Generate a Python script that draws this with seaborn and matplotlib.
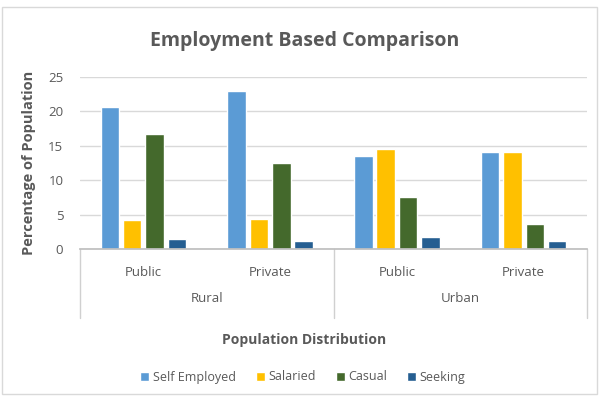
import matplotlib
matplotlib.use("Agg")
import matplotlib.pyplot as plt
import seaborn as sns
import pandas as pd
from matplotlib.patches import Rectangle
from matplotlib.transforms import blended_transform_factory

# Survey shares by area and sector
areas = ["Rural", "Rural", "Urban", "Urban"]
sectors = ["Public", "Private", "Public", "Private"]
series = ["Self Employed", "Salaried", "Casual", "Seeking"]
self_employed = [20.7, 23.0, 13.5, 14.1]
salaried = [4.2, 4.4, 14.6, 14.1]
casual = [16.7, 12.5, 7.6, 3.6]
seeking = [1.4, 1.2, 1.8, 1.2]
yticks = [0, 5, 10, 15, 20, 25]

colors = ["#5B9BD5", "#FFC000", "#44692C", "#255E91"]
text_grey = "#595959"

rows = []
for i, (a, s) in enumerate(zip(areas, sectors)):
    for name, vals in zip(series, [self_employed, salaried, casual, seeking]):
        rows.append({"slot": f"{a}-{s}", "Series": name, "Value": vals[i]})
df = pd.DataFrame(rows)
order = [f"{a}-{s}" for a, s in zip(areas, sectors)]

sns.set_theme(style="white")
plt.rcParams["font.family"] = ["Open Sans", "DejaVu Sans"]

fig = plt.figure(figsize=(6.0, 3.97), dpi=100)
ax = fig.add_axes([80 / 600, 1 - 249 / 397, 507 / 600, 172 / 397])

sns.barplot(data=df, x="slot", y="Value", hue="Series", order=order,
            hue_order=series, palette=colors, width=0.705, gap=0.17,
            saturation=1, ax=ax, legend=True)

ax.set_ylim(0, 25)
ax.set_xlim(-0.5, 3.5)
ax.set_yticks(yticks)
ax.set_yticklabels([str(t) for t in yticks], color=text_grey, fontsize=9.5)
ax.yaxis.grid(True, color="#D9D9D9", linewidth=1)
ax.set_axisbelow(True)
ax.tick_params(axis="y", length=0, pad=12)
ax.tick_params(axis="x", length=0, pad=12)
ax.set_xticks(range(4))
ax.set_xticklabels(sectors, color=text_grey, fontsize=9.5)
for side in ["left", "right", "top"]:
    ax.spines[side].set_visible(False)
ax.spines["bottom"].set_color("#BFBFBF")
ax.set_xlabel("")
ax.set_ylabel("Percentage of Population", fontsize=10.5, fontweight="bold",
              color=text_grey, labelpad=9)

# Area group labels and separators below the axis
tr = blended_transform_factory(ax.transData, fig.transFigure)
for x in [-0.5, 1.5, 3.5]:
    ax.plot([x, x], [1 - 249 / 397, 1 - 318 / 397], transform=tr,
            color="#D0D0D0", linewidth=1, clip_on=False)
for cx, name in [(0.5, "Rural"), (2.5, "Urban")]:
    ax.text(cx, 1 - 299 / 397, name, transform=tr, ha="center",
            va="center", fontsize=9.5, color=text_grey)

fig.text(0.507, 1 - 41 / 397, "Employment Based Comparison", ha="center",
         va="center", fontsize=14, fontweight="bold", color=text_grey)
fig.text(0.507, 1 - 340 / 397, "Population Distribution", ha="center",
         va="center", fontsize=10, fontweight="bold", color=text_grey)

handles, labels = ax.get_legend_handles_labels()
ax.legend_.remove()
fig.legend(handles, labels, loc="center", bbox_to_anchor=(0.505, 1 - 377 / 397),
           ncol=4, frameon=False, fontsize=9, handlelength=0.7,
           handleheight=0.7, handletextpad=0.3, columnspacing=1.6,
           labelcolor=text_grey)

# Chart frame
fig.patches.append(Rectangle((2 / 600, 3 / 397), 595 / 600, 387 / 397,
                             transform=fig.transFigure, fill=False,
                             edgecolor="#D9D9D9", linewidth=1))

fig.savefig("out.png", dpi=100)
